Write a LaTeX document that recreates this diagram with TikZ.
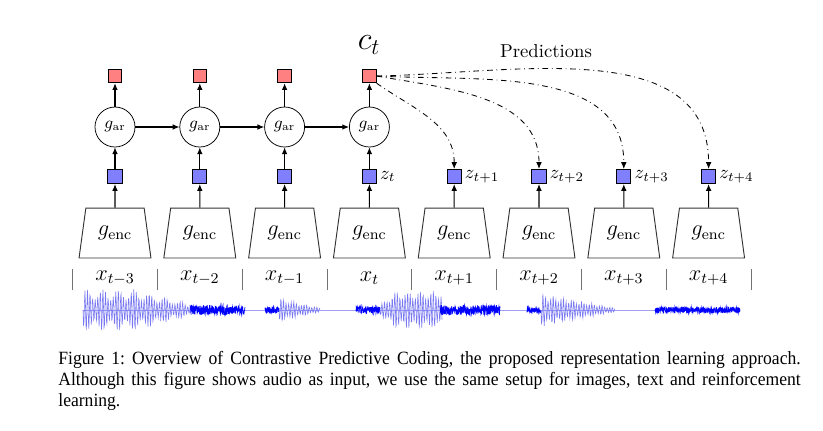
\documentclass[tikz,border=0pt]{standalone}
\usepackage{fontspec}
\newfontfamily\capfont{Liberation Serif}[FakeStretch=0.94]
\usetikzlibrary{arrows.meta,shapes.geometric}
\definecolor{pinkbox}{RGB}{255,128,128}
\definecolor{bluebox}{RGB}{128,128,255}
\definecolor{wavelight}{RGB}{120,120,240}
\definecolor{wavedark}{RGB}{0,0,255}
\tikzset{
  cbox/.style={draw, fill=pinkbox, minimum size=7.2pt, inner sep=0pt, line width=0.5pt},
  zbox/.style={draw, fill=bluebox, minimum size=7.6pt, inner sep=0pt, line width=0.5pt},
  arnode/.style={draw, circle, minimum size=21.4pt, inner sep=0pt, line width=0.4pt, font=\small},
  encnode/.style={draw=black!80, trapezium, trapezium stretches=true, minimum width=38.5pt, minimum height=26.7pt,
     trapezium left angle=74, trapezium right angle=74, line width=0.5pt, inner sep=0pt, font=\large},
  arr/.style={-{Latex[length=3.6pt,width=3pt]}, line width=0.55pt},
  pred/.style={-{Latex[length=3.6pt,width=3pt]}, dash dot, line width=0.45pt},
  sep/.style={draw=black!55, line width=0.5pt},
  osc/.style={wavelight, line width=0.3pt},
  dense/.style={wavedark, line width=0.35pt},
  flat/.style={wavelight!70, line width=0.4pt},
}
\begin{document}
\begin{tikzpicture}[x=0.5348pt,y=-0.5348pt]
\useasboundingbox (0,0) rectangle (823,430);
% encoders and latent z
\foreach \i in {0,...,7} {
  \pgfmathsetmacro\cx{115+84.8*\i}
  \node[encnode] (enc\i) at (\cx,233) {$g_{\mathrm{enc}}$};
  \node[zbox] (z\i) at (\cx,176.5) {};
  \draw[arr] (enc\i.north) -- (z\i.south);
}
% autoregressive part
\foreach \i in {0,...,3} {
  \pgfmathsetmacro\cx{115+84.8*\i}
  \node[arnode] (ar\i) at (\cx,127) {$g_{\mathrm{ar}}$};
  \node[cbox] (c\i) at (\cx,76) {};
  \draw[arr] (z\i.north) -- (ar\i.south);
  \draw[arr] (ar\i.north) -- (c\i.south);
}
\draw[arr] (ar0) -- (ar1);
\draw[arr] (ar1) -- (ar2);
\draw[arr] (ar2) -- (ar3);
% labels
\node (ct) at (369,45) {\LARGE$c_t$};
\node (predlbl) at (546,51) {Predictions};
\node[right, inner sep=1.5pt] (lz3) at (z3.east) {$z_t$};
\node[right, inner sep=1.5pt] (lz4) at (z4.east) {$z_{t+1}$};
\node[right, inner sep=1.5pt] (lz5) at (z5.east) {$z_{t+2}$};
\node[right, inner sep=1.5pt] (lz6) at (z6.east) {$z_{t+3}$};
\node[right, inner sep=1.5pt] (lz7) at (z7.east) {$z_{t+4}$};
% predictions
\draw[pred] (c3.south east) to[out=-35, in=90] (z4.north);
\draw[pred] (c3.east) to[out=-10, in=90] (z5.north);
\draw[pred] (c3.east) to[out=-3, in=90] (z6.north);
\draw[pred] (c3.east) to[out=1, in=90] (z7.north);
% input labels
\foreach \lab [count=\k from 0] in {t-3,t-2,t-1,t,t+1,t+2,t+3,t+4} {
  \pgfmathsetmacro\cx{115+84.8*\k}
  \node[font=\large] (x\k) at (\cx,278) {$x_{\lab}$};
}
\foreach \k in {0,...,8} {
  \pgfmathsetmacro\sx{72.6+84.8*\k}
  \draw[sep] (\sx,269) -- (\sx,290);
}
% waveform (x offsets relative to segment start)
\draw[flat] (83,310) -- (740,310);
\draw[osc] plot[domain=0:107, samples=220] ({83+\x},{310+ (21-15*max(0,(\x-52))/55)*sin(\x*140)*(0.75+0.25*sin(\x*23))});
\draw[dense] plot[domain=190:245, samples=300] (\x,{310+ 5*(2*rnd-1)});
\draw[dense] plot[domain=265:279, samples=80] (\x,{310+ 3*(2*rnd-1)});
\draw[osc] plot[domain=0:41, samples=95] ({279+\x},{310+ (12-10*\x/41)*sin(\x*140)*(0.8+0.2*sin(\x*31))});
\draw[dense] plot[domain=356:380, samples=120] (\x,{310+ 3.5*(2*rnd-1)});
\draw[osc] plot[domain=0:62, samples=130] ({380+\x},{310+ min(19,(5+\x*0.9))*sin(\x*140)*(0.8+0.2*sin(\x*29))});
\draw[dense] plot[domain=440:500, samples=320] (\x,{310+ 5*(2*rnd-1)});
\draw[dense] plot[domain=527:541, samples=70] (\x,{310+ 2.5*(2*rnd-1)});
\draw[osc] plot[domain=0:74, samples=160] ({541+\x},{310+ (17-15*\x/74)*sin(\x*140)*(0.8+0.2*sin(\x*37))});
\draw[dense] plot[domain=655:740, samples=420] (\x,{310+ 3*(2*rnd-1)});
% caption
\node[anchor=north west, text width=397pt, align=justify, inner sep=0pt,
      font=\capfont\fontsize{10}{11.2}\selectfont] (cap) at (58,351)
  {\frenchspacing Figure 1: Overview of Contrastive Predictive Coding, the proposed representation learning approach.\linebreak Although this figure shows audio as input, we use the same setup for images, text and reinforcement\linebreak learning.};
\end{tikzpicture}
\end{document}
